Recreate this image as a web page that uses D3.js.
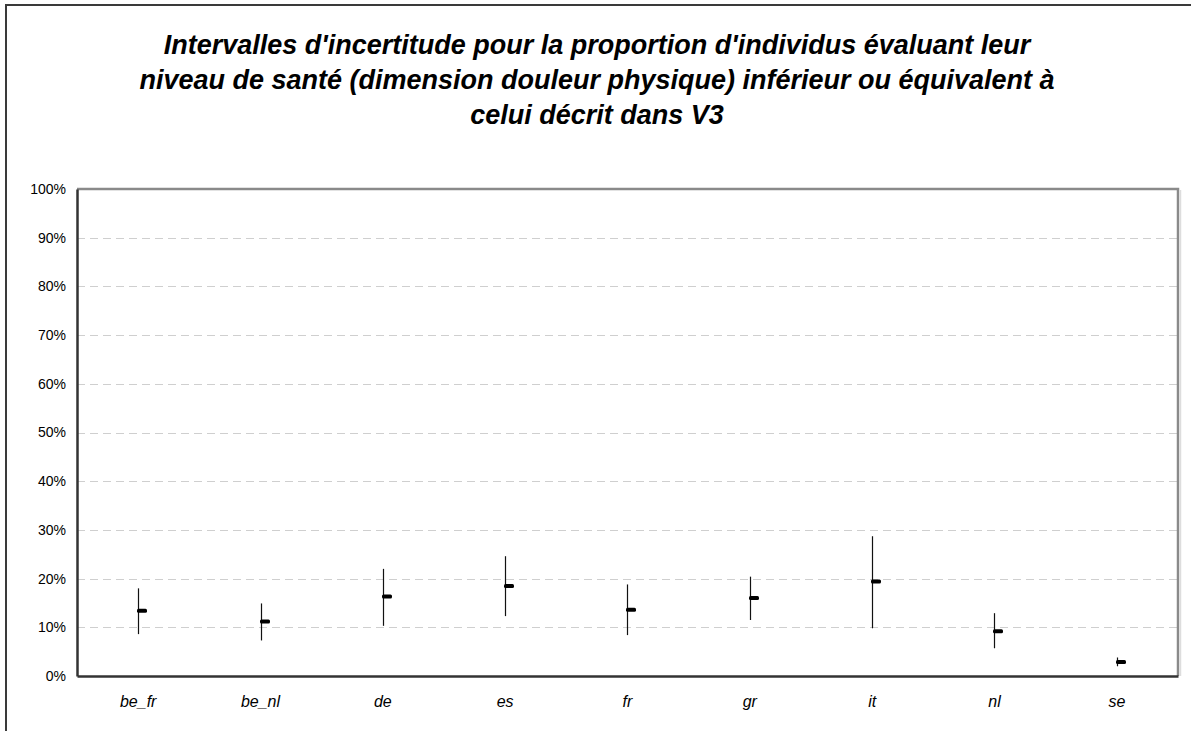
<!DOCTYPE html>
<html>
<head>
<meta charset="utf-8">
<script src="https://cdn.jsdelivr.net/npm/d3@7"></script>
<style>
  body { margin: 0; background: #fff; }
  svg { display: block; font-family: "Liberation Sans", Arial, sans-serif; }
</style>
</head>
<body>
<div class="canvas"></div>
<script>
// values (percent)
const countries = ['be_fr', 'be_nl', 'de', 'es', 'fr', 'gr', 'it', 'nl', 'se'];
const lower = [8.6, 7.3, 10.3, 12.3, 8.4, 11.5, 9.8, 5.7, 2.0];
const upper = [18.0, 14.9, 22.0, 24.6, 18.8, 20.4, 28.7, 12.9, 3.8];
const mean = [13.4, 11.2, 16.3, 18.5, 13.6, 16.0, 19.4, 9.2, 2.9];
const yTicks = [0, 10, 20, 30, 40, 50, 60, 70, 80, 90, 100];
const titleLines = [
    "Intervalles d'incertitude pour la proportion d'individus évaluant leur",
    "niveau de santé (dimension douleur physique) inférieur ou équivalent à",
    "celui décrit dans V3"
];

const dims = { width: 1191, height: 731 };
const plot = { left: 77, right: 1178, top: 189, bottom: 676 };

const svg = d3.select('.canvas')
    .append('svg')
    .attr('width', dims.width)
    .attr('height', dims.height);

// outer frame (runs off right/bottom)
svg.append('rect')
    .attr('x', 6).attr('y', 5)
    .attr('width', 1300).attr('height', 900)
    .attr('fill', 'none')
    .attr('stroke', '#3a3a3a')
    .attr('stroke-width', 2);

// title
svg.append('g')
    .selectAll('text')
    .data(titleLines)
    .enter()
    .append('text')
      .attr('x', 597)
      .attr('y', (d, i) => 54 + i * 35)
      .attr('text-anchor', 'middle')
      .attr('font-size', 27)
      .attr('font-weight', 'bold')
      .attr('font-style', 'italic')
      .attr('fill', '#000')
      .text(d => d);

const x = d3.scaleBand()
    .domain(countries)
    .range([plot.left, plot.right]);

const y = d3.scaleLinear()
    .domain([0, 100])
    .range([plot.bottom, plot.top]);

// gridlines
svg.append('g')
    .selectAll('line')
    .data(yTicks.filter(t => t > 0 && t < 100))
    .enter()
    .append('line')
      .attr('x1', plot.left).attr('x2', plot.right)
      .attr('y1', d => Math.round(y(d)) + 0.5)
      .attr('y2', d => Math.round(y(d)) + 0.5)
      .attr('stroke', '#cfcfcf')
      .attr('stroke-dasharray', '8,5');

// plot border: top/right grey, left/bottom dark
svg.append('path')
    .attr('d', `M${plot.left},${plot.top}H${plot.right}V${plot.bottom}`)
    .attr('fill', 'none')
    .attr('stroke', '#8a8a8a')
    .attr('stroke-width', 2.5);
svg.append('line')
    .attr('x1', plot.right + 2.5).attr('x2', plot.right + 2.5)
    .attr('y1', plot.top + 1).attr('y2', plot.bottom)
    .attr('stroke', '#dddddd')
    .attr('stroke-width', 1.5);

// y axis
const yAxis = d3.axisLeft(y)
    .tickValues(yTicks)
    .tickSize(0)
    .tickPadding(11)
    .tickFormat(d => d + '%');
const yG = svg.append('g')
    .attr('transform', `translate(${plot.left},0)`)
    .call(yAxis);
yG.select('.domain').attr('stroke', '#333').attr('stroke-width', 2.5);
yG.selectAll('text')
    .attr('font-size', 14)
    .attr('font-family', '"Liberation Sans", Arial, sans-serif')
    .attr('fill', '#000');

// x axis
const xAxis = d3.axisBottom(x)
    .tickSize(0)
    .tickPadding(20);
const xG = svg.append('g')
    .attr('transform', `translate(0,${plot.bottom})`)
    .call(xAxis);
xG.select('.domain').attr('stroke', '#333').attr('stroke-width', 2.5);
xG.selectAll('text')
    .attr('font-size', 16)
    .attr('font-style', 'italic')
    .attr('font-family', '"Liberation Sans", Arial, sans-serif')
    .attr('fill', '#000');

// uncertainty intervals
const rows = countries.map((c, i) => ({ c, lo: lower[i], hi: upper[i], m: mean[i] }));
const cx = d => Math.round(x(d.c) + x.bandwidth() / 2) + 0.5;

const bars = svg.append('g')
    .selectAll('g')
    .data(rows)
    .enter()
    .append('g');

bars.append('line')
    .attr('x1', cx).attr('x2', cx)
    .attr('y1', d => y(d.hi))
    .attr('y2', d => y(d.lo))
    .attr('stroke', '#111')
    .attr('stroke-width', 1.2);

bars.append('rect')
    .attr('x', d => cx(d) - 1.5)
    .attr('y', d => y(d.m) - 2)
    .attr('width', 10)
    .attr('height', 4)
    .attr('rx', 1.5)
    .attr('fill', '#000');
</script>
</body>
</html>
